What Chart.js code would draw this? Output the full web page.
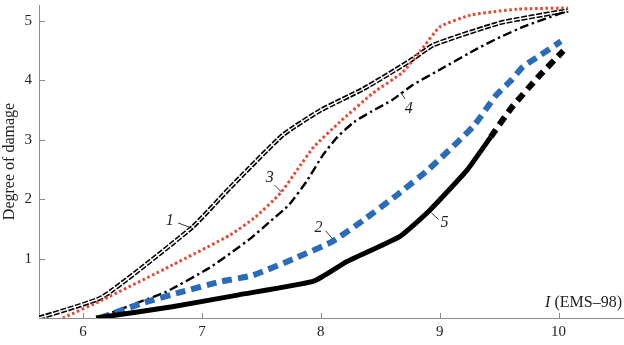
<!DOCTYPE html>
<html lang="en">
<head>
  <meta charset="UTF-8">
  <title>Degree of damage vs intensity</title>
  <script src="https://cdn.jsdelivr.net/npm/chart.js"></script>
  <style>
    html, body { margin: 0; padding: 0; background: #fff; }
    #wrap { width: 624px; height: 345px; }
  </style>
</head>
<body>
<div id="wrap"><canvas id="damageChart"></canvas></div>
<script>
  // values (intensity I, degree of damage)
  const X_TICKS = [6, 7, 8, 9, 10];
  const Y_TICKS = [1, 2, 3, 4, 5];

  const C1_X = [5.63, 6.16, 6.92, 7.24, 7.68, 8.0, 8.36, 8.75, 8.95, 9.51, 10.08];
  const C1_Y = [0, 0.35, 1.53, 2.2, 3.08, 3.5, 3.86, 4.33, 4.6, 4.97, 5.18];

  const C2_X = [6.14, 6.5, 6.83, 7.15, 7.43, 7.8, 8.1, 8.36, 8.64, 8.9, 9.28, 9.47, 9.6, 9.7, 9.85, 10.02];
  const C2_Y = [0, 0.25, 0.44, 0.61, 0.72, 1.02, 1.29, 1.65, 2.07, 2.49, 3.22, 3.74, 4.0, 4.23, 4.43, 4.66];

  const C3_X = [5.83, 6.16, 6.75, 7.24, 7.45, 7.66, 7.8, 7.94, 8.16, 8.44, 8.69, 8.84, 9.0, 9.26, 9.65, 10.08];
  const C3_Y = [0, 0.3, 0.89, 1.4, 1.7, 2.1, 2.49, 2.88, 3.3, 3.79, 4.14, 4.5, 4.9, 5.1, 5.2, 5.22];

  const C4_X = [6.15, 6.45, 6.7, 7.06, 7.24, 7.41, 7.57, 7.73, 7.88, 8.02, 8.14, 8.28, 8.42, 8.6, 8.77, 9.0, 9.32, 9.51, 9.7, 10.07];
  const C4_Y = [0.02, 0.25, 0.44, 0.84, 1.09, 1.34, 1.62, 1.9, 2.3, 2.75, 3.05, 3.3, 3.47, 3.67, 3.92, 4.18, 4.54, 4.73, 4.9, 5.17];

  const C5_X = [6.11, 6.75, 7.31, 7.94, 8.22, 8.67, 8.91, 9.23, 9.43];
  const C5_Y = [0, 0.19, 0.39, 0.62, 0.95, 1.38, 1.8, 2.49, 3.05];
  // extrapolated (dashed) part of curve 5
  const C5E_X = [9.43, 9.6, 9.82, 10.04];
  const C5E_Y = [3.05, 3.53, 4.04, 4.5];

  // curve numbers with their leader lines, in data units
  const LABEL_TEXT = ['1', '2', '3', '4', '5'];
  const LABEL_X = [6.73, 7.98, 7.57, 8.74, 9.04];
  const LABEL_Y = [1.64, 1.52, 2.36, 3.52, 1.6];
  const LEADER_X1 = [6.80, 8.04, 7.61, 8.67, 8.93];
  const LEADER_Y1 = [1.60, 1.47, 2.24, 3.80, 1.77];
  const LEADER_X2 = [6.92, 8.10, 7.67, 8.71, 8.99];
  const LEADER_Y2 = [1.51, 1.33, 2.12, 3.69, 1.66];

  const SERIF = '"Liberation Serif", "Times New Roman", serif';
  const AXIS_GREY = '#8a8a8a';

  function pts(xs, ys) {
    return xs.map((x, i) => ({ x: x, y: ys[i] }));
  }

  function line(xs, ys, color, width, dash) {
    return {
      data: pts(xs, ys),
      borderColor: color,
      borderWidth: width,
      borderDash: dash,
      pointRadius: 0,
      showLine: true,
      fill: false,
      tension: 0.15
    };
  }

  // first dataset ends up on top
  const datasets = [
    line(C5E_X, C5E_Y, '#000', 6, [9, 6]),
    line(C5_X, C5_Y, '#000', 5, []),
    line(C2_X, C2_Y, '#2b6cb8', 6, [10, 6]),
    line(C4_X, C4_Y, '#000', 2.4, [9, 3.5, 2.5, 3.5]),
    line(C3_X, C3_Y, '#e24b32', 3, [2.6, 2.6]),
    line(C1_X, C1_Y, '#fff', 1.4, []),
    line(C1_X, C1_Y, '#000', 4.6, [6, 1.6])
  ];

  const decorations = {
    id: 'decorations',
    afterDraw(chart) {
      const ctx = chart.ctx;
      const xs = chart.scales.x, ys = chart.scales.y;
      const area = chart.chartArea;
      ctx.save();
      // inside tick marks
      ctx.strokeStyle = AXIS_GREY;
      ctx.lineWidth = 1;
      ctx.beginPath();
      X_TICKS.forEach(v => {
        const px = Math.round(xs.getPixelForValue(v)) + 0.5;
        ctx.moveTo(px, area.bottom);
        ctx.lineTo(px, area.bottom - 5);
      });
      Y_TICKS.forEach(v => {
        const py = Math.round(ys.getPixelForValue(v)) + 0.5;
        ctx.moveTo(area.left, py);
        ctx.lineTo(area.left + 6, py);
      });
      ctx.stroke();

      // y tick labels
      ctx.fillStyle = '#222';
      ctx.font = '15px ' + SERIF;
      ctx.textAlign = 'right';
      ctx.textBaseline = 'middle';
      Y_TICKS.forEach(v => {
        ctx.fillText(String(v), area.left - 7, ys.getPixelForValue(v));
      });

      // curve numbers
      ctx.strokeStyle = '#000';
      ctx.lineWidth = 0.8;
      ctx.beginPath();
      LABEL_TEXT.forEach((t, i) => {
        ctx.moveTo(xs.getPixelForValue(LEADER_X1[i]), ys.getPixelForValue(LEADER_Y1[i]));
        ctx.lineTo(xs.getPixelForValue(LEADER_X2[i]), ys.getPixelForValue(LEADER_Y2[i]));
      });
      ctx.stroke();
      ctx.font = 'italic 16px ' + SERIF;
      ctx.textAlign = 'center';
      LABEL_TEXT.forEach((t, i) => {
        ctx.fillText(t, xs.getPixelForValue(LABEL_X[i]), ys.getPixelForValue(LABEL_Y[i]));
      });

      // x axis title: italic I then (EMS–98)
      ctx.textBaseline = 'alphabetic';
      ctx.textAlign = 'left';
      ctx.font = '16px ' + SERIF;
      const rest = ' (EMS\u201398)';
      const restW = ctx.measureText(rest).width;
      ctx.font = 'italic 16px ' + SERIF;
      const iW = ctx.measureText('I').width;
      const x0 = area.right - 2 - restW - iW;
      ctx.fillText('I', x0, area.bottom - 11);
      ctx.font = '16px ' + SERIF;
      ctx.fillText(rest, x0 + iW, area.bottom - 11);
      ctx.restore();
    }
  };

  new Chart(document.getElementById('damageChart'), {
    type: 'scatter',
    data: { datasets: datasets },
    options: {
      responsive: true,
      maintainAspectRatio: false,
      animation: false,
      layout: { padding: { top: 5, right: 0, left: 0, bottom: 0 } },
      plugins: { legend: { display: false }, tooltip: { enabled: false } },
      scales: {
        x: {
          type: 'linear',
          min: 5.63,
          max: 10.55,
          afterBuildTicks: s => { s.ticks = X_TICKS.map(v => ({ value: v })); },
          afterFit: s => { s.height = 27; },
          grid: { display: false, drawTicks: false },
          border: { display: true, color: AXIS_GREY, width: 1 },
          ticks: { color: '#222', padding: 5, maxRotation: 0, font: { family: SERIF, size: 15 } }
        },
        y: {
          type: 'linear',
          min: 0,
          max: 5.27,
          afterFit: s => { s.width = 39; },
          grid: { display: false, drawTicks: false },
          border: { display: true, color: AXIS_GREY, width: 1 },
          title: { display: true, text: 'Degree of damage', color: '#222', padding: 0, font: { family: SERIF, size: 16 } },
          ticks: { display: false }
        }
      }
    },
    plugins: [decorations]
  });
</script>
</body>
</html>
